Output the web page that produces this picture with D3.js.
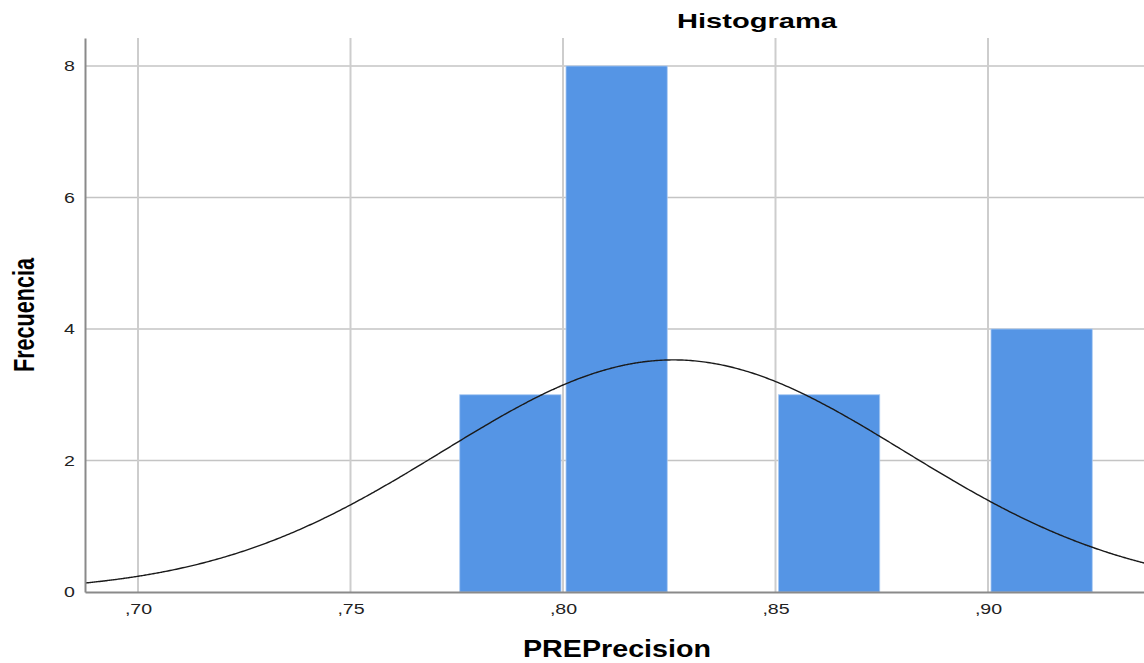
<!DOCTYPE html>
<html>
<head>
<meta charset="utf-8">
<script src="https://cdn.jsdelivr.net/npm/d3@7/dist/d3.min.js"></script>
<style>
  body { margin: 0; background: #fff; }
  text { font-family: "Liberation Sans", Arial, sans-serif; }
</style>
</head>
<body>
<div id="chart"></div>
<script>
// histogram bins (lower edge), counts
const binStarts = [0.775, 0.80, 0.85, 0.90];
const binWidth = 0.025;
const frequencies = [3, 8, 3, 4];

// axis ticks
const xTicks = [0.70, 0.75, 0.80, 0.85, 0.90];
const yTicks = [0, 2, 4, 6, 8];

// normal curve
const curveMean = 0.826;
const curveSd = 0.0543;
const curvePeak = 3.53;

const W = 1144, H = 663;
const margin = { top: 38, right: 0, bottom: 71, left: 85 };
const stretch = 1.4; // the picture's text is wide

const svg = d3.select('#chart')
  .append('svg')
  .attr('width', W)
  .attr('height', H);

const x = d3.scaleLinear()
  .domain([0.687529, 0.936706])
  .range([margin.left, W - margin.right]);

const y = d3.scaleLinear()
  .domain([0, 8.426])
  .range([H - margin.bottom, margin.top]);

// grid
svg.append('g')
  .selectAll('line')
  .data(yTicks.slice(1))
  .enter()
  .append('line')
  .attr('x1', margin.left)
  .attr('x2', W)
  .attr('y1', d => y(d))
  .attr('y2', d => y(d))
  .attr('stroke', '#c4c4c4')
  .attr('stroke-width', 1.3);

svg.append('g')
  .selectAll('line')
  .data(xTicks)
  .enter()
  .append('line')
  .attr('x1', d => x(d))
  .attr('x2', d => x(d))
  .attr('y1', margin.top)
  .attr('y2', y(0))
  .attr('stroke', '#cdcdcd')
  .attr('stroke-width', 2);

// bars
const bins = binStarts.map((s, i) => ({ x0: s, x1: s + binWidth, n: frequencies[i] }));
svg.append('g')
  .selectAll('rect')
  .data(bins)
  .enter()
  .append('rect')
  .attr('x', d => x(d.x0) + 3)
  .attr('width', d => x(d.x1) - x(d.x0) - 5)
  .attr('y', d => y(d.n))
  .attr('height', d => y(0) - y(d.n))
  .attr('fill', '#5595e5')
  .attr('stroke', '#a9c9f2')
  .attr('stroke-width', 0.8);

// normal curve
const curvePts = d3.range(x.domain()[0], x.domain()[1] + 0.0005, 0.0005)
  .map(v => [v, curvePeak * Math.exp(-0.5 * Math.pow((v - curveMean) / curveSd, 2))]);

svg.append('path')
  .datum(curvePts)
  .attr('d', d3.line().x(d => x(d[0])).y(d => y(d[1])).curve(d3.curveBasis))
  .attr('fill', 'none')
  .attr('stroke', '#1a1a1a')
  .attr('stroke-width', 1.4);

// axes
const xAxis = svg.append('g')
  .attr('transform', `translate(0,${y(0)})`)
  .call(d3.axisBottom(x).tickValues(xTicks).tickSize(0)
    .tickFormat(d => d3.format('.2f')(d).replace('0.', ',')));
xAxis.select('.domain').attr('stroke', '#8a8a8a').attr('stroke-width', 2);
xAxis.selectAll('text')
  .attr('y', 0)
  .attr('dy', 0)
  .attr('font-size', 14)
  .attr('fill', '#222')
  .attr('transform', `translate(0,22) scale(${stretch},1)`);

const yAxis = svg.append('g')
  .attr('transform', `translate(${margin.left},0)`)
  .call(d3.axisLeft(y).tickValues(yTicks).tickSize(0).tickFormat(d3.format('d')));
yAxis.select('.domain').attr('stroke', '#8a8a8a').attr('stroke-width', 2);
yAxis.selectAll('text')
  .attr('x', -10 / stretch)
  .attr('dy', '0.35em')
  .attr('font-size', 14)
  .attr('fill', '#222')
  .attr('transform', `scale(${stretch},1)`);

// titles
svg.append('text')
  .text('Histograma')
  .attr('x', 757)
  .attr('y', 28)
  .attr('text-anchor', 'middle')
  .attr('font-size', 21)
  .attr('font-weight', 'bold')
  .attr('textLength', 160)
  .attr('lengthAdjust', 'spacingAndGlyphs');

svg.append('text')
  .text('PREPrecision')
  .attr('x', 617)
  .attr('y', 657)
  .attr('text-anchor', 'middle')
  .attr('font-size', 23)
  .attr('font-weight', 'bold')
  .attr('textLength', 188)
  .attr('lengthAdjust', 'spacingAndGlyphs');

svg.append('text')
  .text('Frecuencia')
  .attr('transform', `translate(34,315) rotate(-90) scale(1,${stretch})`)
  .attr('text-anchor', 'middle')
  .attr('font-size', 21)
  .attr('font-weight', 'bold')
  .attr('textLength', 114)
  .attr('lengthAdjust', 'spacingAndGlyphs');
</script>
</body>
</html>
